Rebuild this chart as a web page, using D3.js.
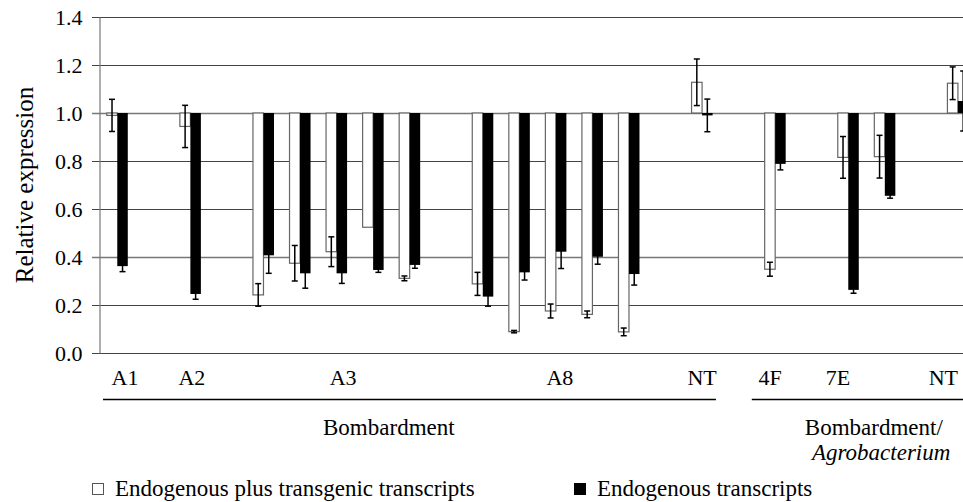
<!DOCTYPE html>
<html>
<head>
<meta charset="utf-8">
<script src="https://cdn.jsdelivr.net/npm/d3@7"></script>
<style>
  body { margin: 0; background: #fff; }
</style>
</head>
<body>
<svg id="chart" width="963" height="502" font-family="'Liberation Serif', 'Times New Roman', 'DejaVu Serif', serif"></svg>
<script>
// one slot per sample pair; empty slots are the gaps between lines
var slots = ["A1", "g1", "A2", "g2", "A3a", "A3b", "A3c", "A3d", "A3e", "g3",
  "A8a", "A8b", "A8c", "A8d", "A8e", "g4", "NT", "g5", "4F", "g6", "7Ea", "7Eb", "g7", "NT2"];

// endogenous plus transgenic transcripts (open bars)
var totalVals = [0.99, null, 0.944, null, 0.242, 0.374, 0.422, 0.524, 0.311, null,
  0.288, 0.089, 0.175, 0.161, 0.088, null, 1.128, null, 0.349, null, 0.815, 0.818, null, 1.124];
var totalErr = [0.067, null, 0.088, null, 0.047, 0.074, 0.062, 0, 0.01, null,
  0.048, 0.005, 0.029, 0.014, 0.016, null, 0.097, null, 0.029, null, 0.087, 0.089, null, 0.068];

// endogenous transcripts (filled bars)
var endoVals = [0.362, null, 0.246, null, 0.407, 0.332, 0.332, 0.346, 0.367, null,
  0.235, 0.336, 0.422, 0.401, 0.329, null, 0.99, null, 0.788, null, 0.263, 0.655, null, 1.05];
var endoErr = [0.023, null, 0.022, null, 0.075, 0.062, 0.042, 0.01, 0.014, null,
  0.04, 0.032, 0.07, 0.031, 0.046, null, 0.068, null, 0.025, null, 0.014, 0.01, null, 0.125];

var yTicks = [0, 0.2, 0.4, 0.6, 0.8, 1.0, 1.2, 1.4];

// line labels, placed in slot units
var lineLabels = ["A1", "A2", "A3", "A8", "NT", "4F", "7E", "NT"];
var lineLabelPos = [0.71, 2.54, 6.68, 12.61, 16.5, 18.36, 20.22, 23.1];

// method brackets [from, to] in slot units
var methodSpans = [[0.11, 16.88], [17.86, 24.5]];

var serif = "'Liberation Serif', 'Times New Roman', 'DejaVu Serif', serif";
var svg = d3.select("#chart");
var plotLeft = 99, plotTop = 17, plotBottom = 353;
var step = 36.55;

var x = d3.scaleBand()
  .domain(slots)
  .range([plotLeft, plotLeft + step * slots.length])
  .paddingInner(0.425)
  .paddingOuter(0.2125);
var xs = d3.scaleBand().domain(["total", "endo"]).range([0, x.bandwidth()]);
var slotX = d3.scaleLinear().domain([0, slots.length]).range([plotLeft, plotLeft + step * slots.length]);
var y = d3.scaleLinear().domain([0, 1.4]).range([plotBottom, plotTop]);
var base = 1.0;

// gridlines (they poke out left of the axis like ticks)
svg.append("g").selectAll("line")
  .data(yTicks)
  .enter()
  .append("line")
    .attr("x1", plotLeft - 7)
    .attr("x2", 963)
    .attr("y1", function(d) { return Math.round(y(d)) + 0.5; })
    .attr("y2", function(d) { return Math.round(y(d)) + 0.5; })
    .attr("stroke", function(d) { return (d === 1.0 || d === 0.4) ? "#777" : "#444"; })
    .attr("stroke-width", function(d) { return (d === 1.0 || d === 0.4) ? 1.5 : 1; });

// y axis
var yAxis = svg.append("g")
  .attr("transform", "translate(" + (plotLeft + 0.5) + ",0)")
  .call(d3.axisLeft(y).tickValues(yTicks).tickFormat(d3.format(".1f")).tickSize(0).tickPadding(17));
yAxis.attr("font-family", serif).attr("font-size", 22);
yAxis.select(".domain").attr("stroke", "#777").attr("stroke-width", 1.2);
yAxis.selectAll("text").attr("fill", "#000");

svg.append("text")
  .attr("transform", "translate(33," + ((plotTop + plotBottom) / 2) + ") rotate(-90)")
  .attr("text-anchor", "middle")
  .attr("font-family", serif)
  .attr("font-size", 25)
  .text("Relative expression");

function barRows(vals, errs, key) {
  return slots.map(function(s, i) {
    return { slot: s, key: key, value: vals[i], err: errs[i] };
  }).filter(function(d) { return d.value !== null; });
}
var totalRows = barRows(totalVals, totalErr, "total");
var endoRows = barRows(endoVals, endoErr, "endo");

function drawBars(rows, fill, stroke) {
  svg.append("g").selectAll("rect")
    .data(rows)
    .enter()
    .append("rect")
      .attr("x", function(d) { return x(d.slot) + xs(d.key); })
      .attr("y", function(d) { return y(Math.max(d.value, base)); })
      .attr("width", xs.bandwidth())
      .attr("height", function(d) { return Math.abs(y(d.value) - y(base)); })
      .attr("fill", fill)
      .attr("stroke", stroke)
      .attr("stroke-width", 1.2);
}
drawBars(totalRows, "#fff", "#666");
drawBars(endoRows, "#000", "none");

function drawErrors(rows) {
  var g = svg.append("g").attr("stroke", "#000").attr("stroke-width", 1.5);
  rows.filter(function(d) { return d.err > 0; }).forEach(function(d) {
    var cx = x(d.slot) + xs(d.key) + xs.bandwidth() / 2;
    var y1 = y(d.value + d.err), y2 = y(d.value - d.err);
    g.append("line").attr("x1", cx).attr("x2", cx).attr("y1", y1).attr("y2", y2);
    g.append("line").attr("x1", cx - 3).attr("x2", cx + 3).attr("y1", y1).attr("y2", y1);
    g.append("line").attr("x1", cx - 3).attr("x2", cx + 3).attr("y1", y2).attr("y2", y2);
  });
}
drawErrors(totalRows);
drawErrors(endoRows);

// line labels under the plot
svg.append("g").selectAll("text")
  .data(lineLabels)
  .enter()
  .append("text")
    .attr("x", function(d, i) { return slotX(lineLabelPos[i]); })
    .attr("y", 385)
    .attr("text-anchor", "middle")
    .attr("font-family", serif)
    .attr("font-size", 22)
    .text(function(d) { return d; });

// method brackets
svg.append("g").selectAll("line")
  .data(methodSpans)
  .enter()
  .append("line")
    .attr("x1", function(d) { return slotX(d[0]); })
    .attr("x2", function(d) { return slotX(d[1]); })
    .attr("y1", 399.5)
    .attr("y2", 399.5)
    .attr("stroke", "#000")
    .attr("stroke-width", 1.5);

svg.append("text")
  .attr("x", slotX(7.93))
  .attr("y", 435)
  .attr("text-anchor", "middle")
  .attr("font-family", serif)
  .attr("font-size", 23)
  .text("Bombardment");

var agro = svg.append("text")
  .attr("x", slotX(21.2))
  .attr("y", 435)
  .attr("text-anchor", "middle")
  .attr("font-family", serif)
  .attr("font-size", 23);
agro.append("tspan").text("Bombardment/");
agro.append("tspan")
  .attr("x", slotX(21.4))
  .attr("dy", 25)
  .attr("font-style", "italic")
  .text("Agrobacterium");

// legend
var legendItems = ["Endogenous plus transgenic transcripts", "Endogenous transcripts"];
var legendFill = ["#fff", "#000"];
var legendX = [92, 574];
var lg = svg.append("g").selectAll("g")
  .data(legendItems)
  .enter()
  .append("g")
    .attr("transform", function(d, i) { return "translate(" + legendX[i] + ",0)"; });
lg.append("rect")
  .attr("x", 0.5).attr("y", 483.5)
  .attr("width", 11).attr("height", 11)
  .attr("fill", function(d, i) { return legendFill[i]; })
  .attr("stroke", function(d, i) { return i === 0 ? "#555" : "#000"; })
  .attr("stroke-width", 1);
lg.append("text")
  .attr("x", 23)
  .attr("y", 496)
  .attr("font-family", serif)
  .attr("font-size", 23)
  .text(function(d) { return d; });
</script>
</body>
</html>
